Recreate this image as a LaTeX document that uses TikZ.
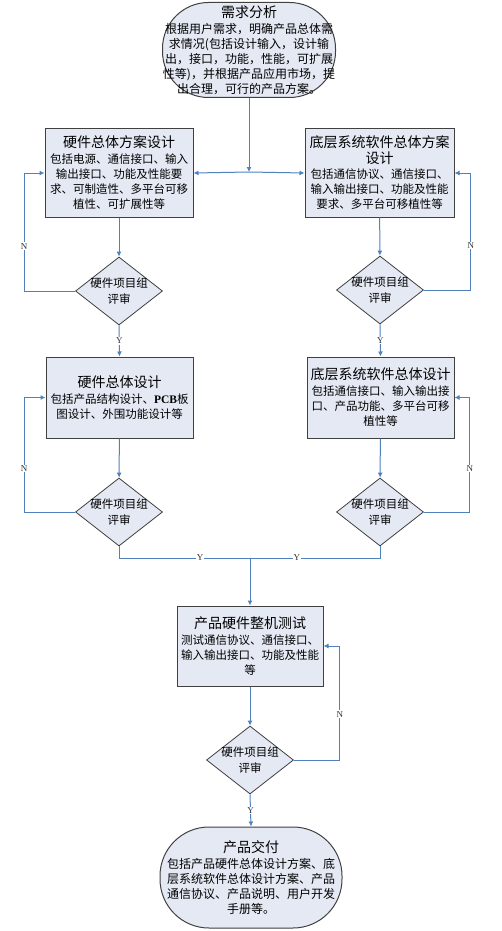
\documentclass[tikz,border=0pt]{standalone}
\usepackage{fontspec}
\setmainfont{Liberation Serif}
\newfontfamily\cjk{Noto Sans CJK SC}
\usepackage{xcolor}
\usepackage{tikz}
\usetikzlibrary{shapes.geometric, arrows.meta, positioning, calc}

\definecolor{boxfill}{RGB}{228,233,244}
\definecolor{boxline}{RGB}{64,64,64}
\definecolor{flowblue}{RGB}{79,129,189}

\newcommand{\ttl}[1]{{\fontsize{14}{17}\selectfont #1}\\[1pt]}

\tikzset{
    proc/.style={draw=boxline, fill=boxfill, line width=1pt, align=center, inner sep=0pt,
        font=\cjk\fontsize{11.5}{15}\selectfont},
    check/.style={diamond, draw=boxline, fill=boxfill, line width=0.8pt, align=center,
        aspect=1.28, inner sep=-3pt, minimum width=87pt, minimum height=68pt,
        font=\cjk\fontsize{11.5}{16}\selectfont},
    term/.style={draw=boxline, fill=boxfill, line width=1pt},
    termtext/.style={align=center, font=\cjk\fontsize{12}{15}\selectfont},
    flow/.style={draw=flowblue, line width=1pt, -{Latex[length=5pt,width=5pt]}},
    joinline/.style={draw=flowblue, line width=1pt},
    yn/.style={fill=white, inner sep=1pt, text=black!80, font=\rmfamily\fontsize{9}{9}\selectfont}
}

\begin{document}
\begin{tikzpicture}[x=1pt, y=-1pt]
    \useasboundingbox (0,0) rectangle (501,931);

    % requirement analysis
    \node[term, rounded corners=46pt, minimum width=173pt, minimum height=95pt,
        label={[termtext]center:{\ttl{需求分析}根据用户需求，明确产品总体需\\求情况(包括设计输入，设计输\\出，接口，功能，性能，可扩展\\性等)，并根据产品应用市场，提\\出合理，可行的产品方案。}}]
        (req) at (249,50) {};
    \coordinate (split) at (249,172);

    % overall schemes
    \node[proc, minimum width=148pt, minimum height=88pt] (hwplan) at (119,173)
        {\ttl{硬件总体方案设计}包括电源、通信接口、输入\\输出接口、功能及性能要\\求、可制造性、多平台可移\\植性、可扩展性等};
    \node[proc, minimum width=149pt, minimum height=88pt] (swplan) at (379.5,173)
        {\ttl{底层系统软件总体方案}{\fontsize{14}{17}\selectfont 设计}\\包括通信协议、通信接口、\\输入输出接口、功能及性能\\要求、多平台可移植性等};

    \node[check] (hwcheck) at (119,291) {硬件项目组\\评审};
    \node[check] (swcheck) at (380,290) {硬件项目组\\评审};

    % detailed designs
    \node[proc, minimum width=147pt, minimum height=81pt] (hwdesign) at (119.5,397.5)
        {\ttl{硬件总体设计}包括产品结构设计、{\rmfamily\bfseries PCB}板\\图设计、外围功能设计等};
    \node[proc, minimum width=147pt, minimum height=81pt] (swdesign) at (380.5,397.5)
        {\ttl{底层系统软件总体设计}包括通信接口、输入输出接\\口、产品功能、多平台可移\\植性等};

    \node[check] (hwcheckb) at (119,512) {硬件项目组\\评审};
    \node[check] (swcheckb) at (380,512) {硬件项目组\\评审};
    \coordinate (merge) at (250,558);

    % whole machine test
    \node[proc, minimum width=146pt, minimum height=80pt] (test) at (250,646)
        {\ttl{产品硬件整机测试}测试通信协议、通信接口、\\输入输出接口、功能及性能\\等};
    \node[check] (testcheck) at (250,760) {硬件项目组\\评审};

    % delivery
    \node[term, rounded corners=49pt, minimum width=182pt, minimum height=101pt,
        label={[termtext]center:{\ttl{产品交付}包括产品硬件总体设计方案、底\\层系统软件总体设计方案、产品\\通信协议、产品说明、用户开发\\手册等。}}]
        (done) at (251,877.5) {};

    % connectors
    \draw[flow] (req.south) -- (split);
    \draw[flow] (split) -- (hwplan.east);
    \draw[flow] (split) -- (swplan.west);

    \draw[flow] (hwplan) -- (hwcheck);
    \draw[flow] (swplan) -- (swcheck);
    \draw[flow] (hwcheck.west) -- ++(-51,0) |- node[yn, pos=0.19]{N} (hwplan.west);
    \draw[flow] (swcheck.east) -- ++(47,0) |- node[yn, pos=0.19]{N} (swplan.east);
    \draw[flow] (hwcheck.south) -- node[yn]{Y} (hwdesign.north);
    \draw[flow] (swcheck.south) -- node[yn]{Y} (swdesign.north);

    \draw[flow] (hwdesign) -- (hwcheckb);
    \draw[flow] (swdesign) -- (swcheckb);
    \draw[flow] (hwcheckb.west) -- ++(-51,0) |- node[yn, pos=0.19]{N} (hwdesign.west);
    \draw[flow] (swcheckb.east) -- ++(46,0) |- node[yn, pos=0.19]{N} (swdesign.east);
    \draw[joinline] (hwcheckb.south) |- node[yn, pos=0.81]{Y} (merge);
    \draw[joinline] (swcheckb.south) |- node[yn, pos=0.82]{Y} (merge);
    \draw[flow] (merge) -- (test.north);

    \draw[flow] (test) -- (testcheck);
    \draw[flow] (testcheck.east) -- ++(46,0) |- node[yn, pos=0.2]{N} (test.east);
    \draw[flow] (testcheck.south) -- node[yn]{Y} (done.north);
\end{tikzpicture}
\end{document}
